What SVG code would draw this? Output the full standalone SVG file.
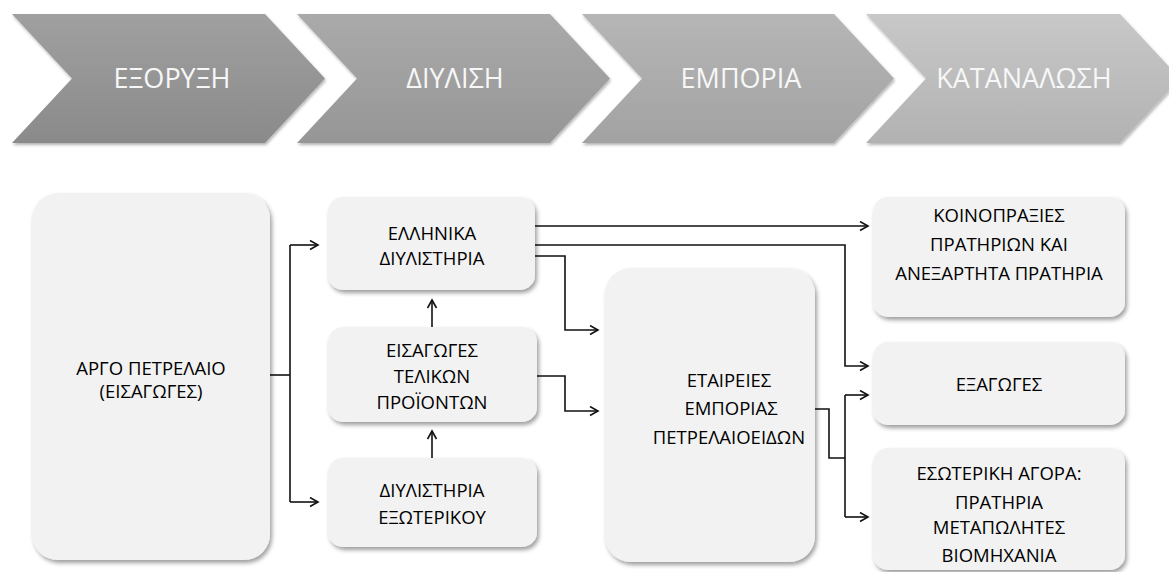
<svg xmlns="http://www.w3.org/2000/svg" width="1169" height="572" viewBox="0 0 1169 572">
<style>
.chev-t{font-family:"Open Sans","Liberation Sans",sans-serif;font-size:27px;fill:#f7f7f7;text-anchor:middle}
.box{fill:#f2f2f2;filter:url(#sh)}
.lbl{font-family:"Open Sans","Liberation Sans",sans-serif;font-size:18.5px;fill:#000;text-anchor:middle}
.con{fill:none;stroke:#111;stroke-width:1.6}
.arr{marker-end:url(#ah)}
</style>
<defs>
<filter id="sh" x="-10%" y="-10%" width="125%" height="125%">
<feDropShadow dx="2" dy="3" stdDeviation="2" flood-color="#000" flood-opacity="0.38"/>
</filter>
<filter id="csh" x="-10%" y="-10%" width="125%" height="125%">
<feDropShadow dx="1" dy="2" stdDeviation="1.5" flood-color="#000" flood-opacity="0.3"/>
</filter>
<linearGradient id="g1" x1="0" y1="0" x2="0" y2="1"><stop offset="0" stop-color="#a0a0a0"/><stop offset="1" stop-color="#8a8a8a"/></linearGradient>
<linearGradient id="g2" x1="0" y1="0" x2="0" y2="1"><stop offset="0" stop-color="#aaaaaa"/><stop offset="1" stop-color="#969696"/></linearGradient>
<linearGradient id="g3" x1="0" y1="0" x2="0" y2="1"><stop offset="0" stop-color="#b6b6b6"/><stop offset="1" stop-color="#a2a2a2"/></linearGradient>
<linearGradient id="g4" x1="0" y1="0" x2="0" y2="1"><stop offset="0" stop-color="#c8c8c8"/><stop offset="1" stop-color="#b2b2b2"/></linearGradient>
<marker id="ah" markerWidth="12" markerHeight="12" refX="9" refY="5" orient="auto" markerUnits="userSpaceOnUse">
<path d="M1,0.5 L9,5 L1,9.5" fill="none" stroke="#111" stroke-width="1.6"/>
</marker>
</defs>

<g id="stage-exoryxi">
<polygon points="12,14 265,14 325,78.5 265,143 12,143 72,78.5" fill="url(#g1)" filter="url(#csh)"/>
<text class="chev-t" x="172" y="88">ΕΞΟΡΥΞΗ</text>
</g>
<g id="stage-diylisi">
<polygon points="297,14 550,14 610,78.5 550,143 297,143 357,78.5" fill="url(#g2)" filter="url(#csh)"/>
<text class="chev-t" x="455" y="88">ΔΙΥΛΙΣΗ</text>
</g>
<g id="stage-emporia">
<polygon points="582,14 834,14 894,78.5 834,143 582,143 642,78.5" fill="url(#g3)" filter="url(#csh)"/>
<text class="chev-t" x="741" y="88">ΕΜΠΟΡΙΑ</text>
</g>
<g id="stage-katanalosi">
<polygon points="866,14 1120,14 1180,78.5 1120,143 866,143 926,78.5" fill="url(#g4)" filter="url(#csh)"/>
<text class="chev-t" x="1024" y="88">ΚΑΤΑΝΑΛΩΣΗ</text>
</g>

<g id="connectors">
<path class="con" d="M270,375 H290"/>
<path class="con" d="M290,245 V502"/>
<path class="con arr" d="M290,245 H318"/>
<path class="con arr" d="M290,502 H318"/>
<path class="con arr" d="M432,327 V300"/>
<path class="con arr" d="M432,458 V431"/>
<path class="con arr" d="M535,226 H868"/>
<path class="con arr" d="M535,245 H845 V366 H868"/>
<path class="con arr" d="M535,256 H565 V330 H598"/>
<path class="con arr" d="M537,376 H565 V411 H598"/>
<path class="con" d="M815,409 H829 V458 H845"/>
<path class="con" d="M845,395 V517"/>
<path class="con arr" d="M845,395 H868"/>
<path class="con arr" d="M845,517 H868"/>
</g>

<g id="argo">
<rect class="box" x="32" y="193" width="238" height="367" rx="26"/>
<text class="lbl" x="151" y="375">ΑΡΓΟ ΠΕΤΡΕΛΑΙΟ</text>
<text class="lbl" x="151" y="398">(ΕΙΣΑΓΩΓΕΣ)</text>
</g>
<g id="ellinika">
<rect class="box" x="328" y="197" width="207" height="93" rx="15"/>
<text class="lbl" x="432" y="240">ΕΛΛΗΝΙΚΑ</text>
<text class="lbl" x="432" y="265">ΔΙΥΛΙΣΤΗΡΙΑ</text>
</g>
<g id="eisagoges">
<rect class="box" x="328" y="327" width="209" height="95" rx="15"/>
<text class="lbl" x="432" y="357">ΕΙΣΑΓΩΓΕΣ</text>
<text class="lbl" x="432" y="383">ΤΕΛΙΚΩΝ</text>
<text class="lbl" x="432" y="409">ΠΡΟΪΟΝΤΩΝ</text>
</g>
<g id="exoterikou">
<rect class="box" x="328" y="458" width="209" height="89" rx="15"/>
<text class="lbl" x="432" y="497">ΔΙΥΛΙΣΤΗΡΙΑ</text>
<text class="lbl" x="432" y="524">ΕΞΩΤΕΡΙΚΟΥ</text>
</g>
<g id="etaireies">
<rect class="box" x="605" y="268" width="210" height="294" rx="26"/>
<text class="lbl" x="729" y="387">ΕΤΑΙΡΕΙΕΣ</text>
<text class="lbl" x="731" y="415">ΕΜΠΟΡΙΑΣ</text>
<text class="lbl" x="729" y="444">ΠΕΤΡΕΛΑΙΟΕΙΔΩΝ</text>
</g>
<g id="koinopraxies">
<rect class="box" x="873" y="197" width="252" height="120" rx="15"/>
<text class="lbl" x="999" y="222">ΚΟΙΝΟΠΡΑΞΙΕΣ</text>
<text class="lbl" x="999" y="251">ΠΡΑΤΗΡΙΩΝ ΚΑΙ</text>
<text class="lbl" x="999" y="280">ΑΝΕΞΑΡΤΗΤΑ ΠΡΑΤΗΡΙΑ</text>
</g>
<g id="exagoges">
<rect class="box" x="873" y="342" width="252" height="83" rx="15"/>
<text class="lbl" x="999" y="391">ΕΞΑΓΩΓΕΣ</text>
</g>
<g id="esoteriki">
<rect class="box" x="873" y="448" width="252" height="122" rx="15"/>
<text class="lbl" x="999" y="480">ΕΣΩΤΕΡΙΚΗ ΑΓΟΡΑ:</text>
<text class="lbl" x="999" y="509">ΠΡΑΤΗΡΙΑ</text>
<text class="lbl" x="999" y="534">ΜΕΤΑΠΩΛΗΤΕΣ</text>
<text class="lbl" x="999" y="562">ΒΙΟΜΗΧΑΝΙΑ</text>
</g>
</svg>
